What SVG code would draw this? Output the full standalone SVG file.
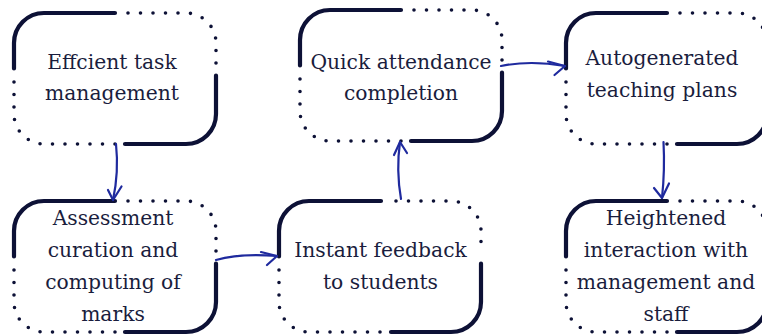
<svg xmlns="http://www.w3.org/2000/svg" width="762" height="335" viewBox="0 0 762 335">
  <defs>
    <style>
      .solid { fill: none; stroke: #0d1136; stroke-width: 4.2; stroke-linecap: round; }
      .dots { fill: none; stroke: #0d1136; stroke-width: 3.6; stroke-linecap: round; stroke-dasharray: 0 12.5; }
      .lbl { font-family: 'DejaVu Serif', serif; font-size: 20.3px; fill: #1a1d3d; text-anchor: middle; }
      .conn { fill: none; stroke: #1f2a9e; stroke-width: 2.2; stroke-linecap: round; stroke-linejoin: round; }
    </style>
  </defs>
  <rect width="762" height="335" fill="#ffffff"/>

  <g id="node-efficient">
    <path class="solid" d="M14 68.5 V43 A30 30 0 0 1 44 13 H115"/>
    <path class="solid" d="M216 75.5 V114 A30 30 0 0 1 186 144 H125"/>
    <path class="dots" d="M128 13 H186 A30 30 0 0 1 216 43 V63.5"/>
    <path class="dots" d="M115 144 H44 A30 30 0 0 1 14 114 V78.5"/>
    <text class="lbl" x="112" y="69">Effcient task</text>
    <text class="lbl" x="112" y="100">management</text>
  </g>

  <g id="node-assessment">
    <path class="solid" d="M14 256.5 V231 A30 30 0 0 1 44 201 H115"/>
    <path class="solid" d="M216 263.5 V302 A30 30 0 0 1 186 332 H125"/>
    <path class="dots" d="M128 201 H186 A30 30 0 0 1 216 231 V251.5"/>
    <path class="dots" d="M115 332 H44 A30 30 0 0 1 14 302 V266.5"/>
    <text class="lbl" x="113" y="225">Assessment</text>
    <text class="lbl" x="113" y="257">curation and</text>
    <text class="lbl" x="113" y="289">computing of</text>
    <text class="lbl" x="113" y="321">marks</text>
  </g>

  <g id="node-attendance">
    <path class="solid" d="M300 65.5 V40 A30 30 0 0 1 330 10 H401"/>
    <path class="solid" d="M502 72.5 V111 A30 30 0 0 1 472 141 H411"/>
    <path class="dots" d="M414 10 H472 A30 30 0 0 1 502 40 V60.5"/>
    <path class="dots" d="M401 141 H330 A30 30 0 0 1 300 111 V75.5"/>
    <text class="lbl" x="401" y="69">Quick attendance</text>
    <text class="lbl" x="401" y="100">completion</text>
  </g>

  <g id="node-plans">
    <path class="solid" d="M566 68.5 V43 A30 30 0 0 1 596 13 H667"/>
    <path class="solid" d="M767 75.5 V114 A30 30 0 0 1 737 144 H677"/>
    <path class="dots" d="M680 13 H737 A30 30 0 0 1 767 43 V63.5"/>
    <path class="dots" d="M667 144 H596 A30 30 0 0 1 566 114 V78.5"/>
    <text class="lbl" x="662" y="65">Autogenerated</text>
    <text class="lbl" x="662" y="97">teaching plans</text>
  </g>

  <g id="node-feedback">
    <path class="solid" d="M279 256.5 V231 A30 30 0 0 1 309 201 H381"/>
    <path class="solid" d="M481 263.5 V302 A30 30 0 0 1 451 332 H391"/>
    <path class="dots" d="M396 201 H451 A30 30 0 0 1 481 231 V251.5"/>
    <path class="dots" d="M380 332 H309 A30 30 0 0 1 279 302 V266.5"/>
    <text class="lbl" x="380.5" y="257">Instant feedback</text>
    <text class="lbl" x="380.5" y="289">to students</text>
  </g>

  <g id="node-interaction">
    <path class="solid" d="M566 256.5 V231 A30 30 0 0 1 596 201 H667"/>
    <path class="solid" d="M767 263.5 V302 A30 30 0 0 1 737 332 H677"/>
    <path class="dots" d="M680 201 H737 A30 30 0 0 1 767 231 V251.5"/>
    <path class="dots" d="M667 332 H596 A30 30 0 0 1 566 302 V266.5"/>
    <text class="lbl" x="666" y="225">Heightened</text>
    <text class="lbl" x="666" y="257">interaction with</text>
    <text class="lbl" x="666" y="289">management and</text>
    <text class="lbl" x="666" y="321">staff</text>
  </g>

  <g id="connectors">
    <path class="conn" d="M116 144 Q119 172 113 200"/>
    <path class="conn" d="M108 190 L113 200 L121.5 186.5"/>
    <path class="conn" d="M216 260 Q240 253 277 256"/>
    <path class="conn" d="M261 252 L277 256 L267 265"/>
    <path class="conn" d="M401 199 Q396 170 400 142"/>
    <path class="conn" d="M394 155 L400 142 L407 153"/>
    <path class="conn" d="M501 66 Q530 60 565 66"/>
    <path class="conn" d="M548 61.5 L565 66 L554.5 75"/>
    <path class="conn" d="M663.5 142 Q665 170 662 198"/>
    <path class="conn" d="M654 188 L662 198 L669 183.5"/>
  </g>
</svg>
